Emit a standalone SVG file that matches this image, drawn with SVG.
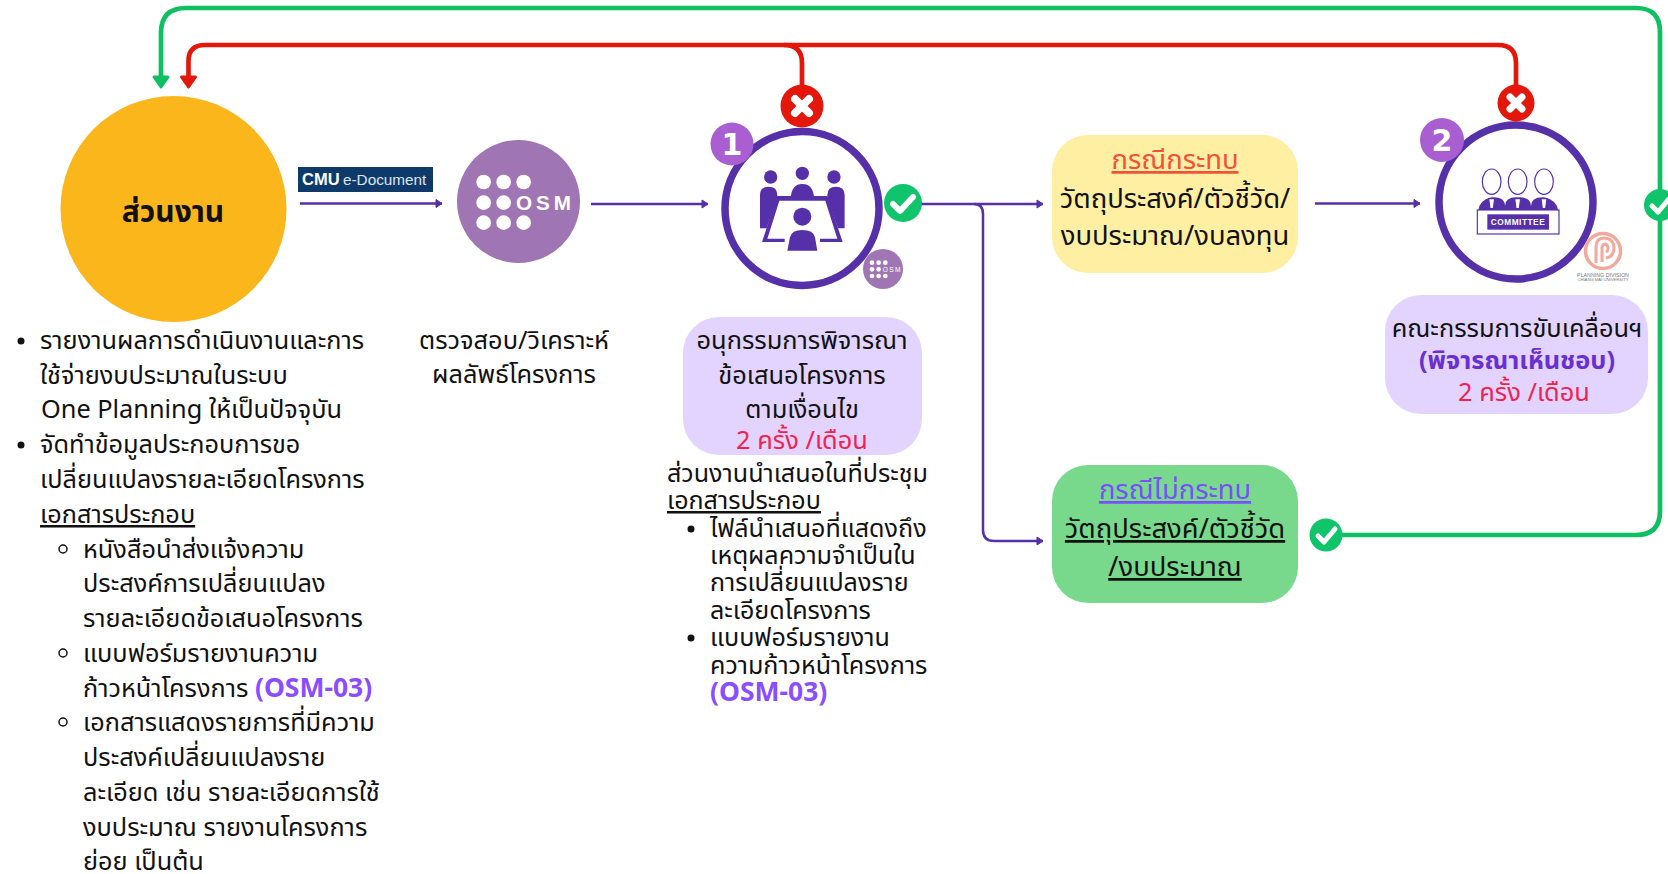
<svg xmlns="http://www.w3.org/2000/svg" width="1668" height="874" viewBox="0 0 1668 874">
<style>
text{font-family:"Noto Sans","Noto Sans Thai","Noto Sans Thai UI","DejaVu Sans",sans-serif;fill:#111}
.l{font-size:25.300px}
.m{font-size:25.400px;text-anchor:middle}
.s{font-size:25.100px}
.b{font-size:27.400px;text-anchor:middle}
.u{text-decoration:underline}
.osm{font-family:"Liberation Sans",sans-serif;font-weight:700;fill:#fff}
.pu{fill:#5530a8}
.dot{fill:#fff}
.flow{fill:none;stroke:#5530a8;stroke-width:2.500}
.red{fill:none;stroke:#e3170a;stroke-width:4.700}
.grn{fill:none;stroke:#0fbf62;stroke-width:4.700}
.x{stroke:#fff;stroke-width:8;stroke-linecap:round;fill:none}
.ck{stroke:#fff;stroke-width:6;stroke-linecap:round;stroke-linejoin:round;fill:none}
.ring{fill:#fff;stroke:#5530a8;stroke-width:7.500}
.badge{fill:#a95fd2}
.badget{font-family:"DejaVu Sans",sans-serif;font-weight:700;font-size:30px;fill:#fff;text-anchor:middle}
.purplebold{font-weight:700;fill:#8a4dff;font-size:26.500px}
</style>
<defs>
<marker id="ap" markerWidth="8" markerHeight="10" refX="7" refY="5" orient="auto" markerUnits="userSpaceOnUse" viewBox="0 0 8 10"><path d="M1 1L7 5L1 9Z" fill="#5530a8" stroke="#5530a8" stroke-linejoin="round"/></marker>
</defs>
<g id="connectors">
<path class="grn" d="M1325 535H1636Q1660 535 1660 511V32Q1660 8 1636 8H186Q161 8 161 33V76"/>
<path d="M154 77H168L161 87Z" fill="#0fbf62" stroke="#0fbf62" stroke-width="3" stroke-linejoin="round"/>
<path class="red" d="M802 86V63Q802 45 784 45H205Q188.500 45 188.500 61V76"/>
<path class="red" d="M1516 86V63Q1516 45 1498 45H784"/>
<path d="M181.500 77H195.500L188.500 87Z" fill="#e3170a" stroke="#e3170a" stroke-width="3" stroke-linejoin="round"/>
<path class="flow" marker-end="url(#ap)" d="M300 203.500H442"/>
<path class="flow" marker-end="url(#ap)" d="M591 204H708"/>
<path class="flow" marker-end="url(#ap)" d="M921 204H1043"/>
<path class="flow" marker-end="url(#ap)" d="M974 204Q983 204 983 214V530Q983 541 994 541H1043"/>
<path class="flow" marker-end="url(#ap)" d="M1315 203.500H1420"/>
</g>
<g id="unit">
<circle cx="173.500" cy="209" r="113" fill="#fbb61b"/>
<text x="173" y="222" font-size="30" font-weight="700" text-anchor="middle">ส่วนงาน</text>
<circle cx="21" cy="341" r="3.500" fill="#111"/>
<circle cx="21" cy="445" r="3.500" fill="#111"/>
<circle cx="63" cy="549" r="4" fill="none" stroke="#111" stroke-width="1.500"/>
<circle cx="63" cy="653" r="4" fill="none" stroke="#111" stroke-width="1.500"/>
<circle cx="63" cy="722" r="4" fill="none" stroke="#111" stroke-width="1.500"/>
<text class="l" x="40" y="349">รายงานผลการดำเนินงานและการ</text>
<text class="l" x="40" y="384">ใช้จ่ายงบประมาณในระบบ</text>
<text class="l" x="41" y="418">One Planning ให้เป็นปัจจุบัน</text>
<text class="l" x="40" y="453">จัดทำข้อมูลประกอบการขอ</text>
<text class="l" x="40" y="488">เปลี่ยนแปลงรายละเอียดโครงการ</text>
<text class="l u" x="40" y="523">เอกสารประกอบ</text>
<text class="l" x="83" y="558">หนังสือนำส่งแจ้งความ</text>
<text class="l" x="83" y="592">ประสงค์การเปลี่ยนแปลง</text>
<text class="l" x="83" y="627">รายละเอียดข้อเสนอโครงการ</text>
<text class="l" x="83" y="662">แบบฟอร์มรายงานความ</text>
<text class="l" x="83" y="697">ก้าวหน้าโครงการ <tspan class="purplebold">(OSM-03)</tspan></text>
<text class="l" x="83" y="731">เอกสารแสดงรายการที่มีความ</text>
<text class="l" x="83" y="766">ประสงค์เปลี่ยนแปลงราย</text>
<text class="l" x="83" y="801">ละเอียด เช่น รายละเอียดการใช้</text>
<text class="l" x="83" y="836">งบประมาณ รายงานโครงการ</text>
<text class="l" x="83" y="870">ย่อย เป็นต้น</text>
</g>
<g id="edoc">
<rect x="298" y="167" width="135" height="25" fill="#0e3a6b"/>
<text x="302" y="185" font-weight="700" font-size="16.500" style="fill:#fff;font-family:'Liberation Sans'">CMU</text>
<text x="343" y="185" style="fill:#dfe6ee;font-family:'Liberation Sans'" font-size="15.300">e-Document</text>
</g>
<g id="osm">
<circle cx="518.500" cy="201.500" r="61.500" fill="#9f76b3"/>
<g transform="translate(280 120) scale(.3333)">
<circle class="dot" cx="611" cy="186" r="22"/><circle class="dot" cx="671" cy="186" r="22"/><circle class="dot" cx="731" cy="186" r="22"/>
<circle class="dot" cx="611" cy="248" r="22"/><circle class="dot" cx="671" cy="248" r="22"/>
<circle class="dot" cx="611" cy="308" r="22"/><circle class="dot" cx="671" cy="308" r="22"/><circle class="dot" cx="731" cy="308" r="22"/>
<text class="osm" x="708" y="270" font-size="62" letter-spacing="12">OSM</text>
</g>
<text class="m" x="514" y="349">ตรวจสอบ/วิเคราะห์</text>
<text class="m" x="514" y="383">ผลลัพธ์โครงการ</text>
</g>
<g id="meeting">
<circle class="ring" cx="802" cy="208.500" r="77"/>
<g transform="translate(700 70) scale(.3333)" class="pu">
<circle cx="212" cy="321" r="20"/><circle cx="307" cy="310" r="20"/><circle cx="402" cy="321" r="20"/>
<path d="M272 384Q275 342 307 342Q340 342 342 384Z"/>
<path d="M232 378H382L428 516H360V506H412L376 392H238L202 506H254V516H186Z"/>
<path d="M180 475V375Q180 350 206 350Q232 350 232 375V385L200 475Z"/>
<path d="M434 475V375Q434 350 408 350Q382 350 382 375V385L414 475Z"/>
<circle cx="307" cy="440" r="27"/>
<path d="M262 542L270 502Q275 480 307 480Q340 480 345 502L352 542Z"/>
</g>
</g>
<g id="badge1"><circle class="badge" cx="732" cy="144" r="21.500"/><text class="badget" x="732" y="155">1</text></g>
<g id="reject1"><circle cx="802" cy="106" r="21.500" fill="#e3170a"/><path class="x" d="M795 99L809 113M809 99L795 113"/></g>
<g id="approve1"><circle cx="903" cy="203" r="19" fill="#0fc46a"/><path class="ck" d="M893 204L900 211L913 197"/></g>
<g id="osmmini">
<circle cx="883" cy="269" r="20" fill="#9f76b3"/>
<g transform="translate(700 70) scale(.3333)">
<circle class="dot" cx="516" cy="578" r="7"/><circle class="dot" cx="536" cy="578" r="7"/><circle class="dot" cx="556" cy="578" r="7"/>
<circle class="dot" cx="516" cy="598" r="7"/><circle class="dot" cx="536" cy="598" r="7"/>
<circle class="dot" cx="516" cy="618" r="7"/><circle class="dot" cx="536" cy="618" r="7"/><circle class="dot" cx="556" cy="618" r="7"/>
<text x="548" y="605" font-size="20" letter-spacing="4" style="fill:#fff;font-family:'Liberation Sans'">OSM</text>
</g>
</g>
<g id="sub">
<rect x="683" y="317" width="239" height="138" rx="36" fill="#e2d4ff"/>
<text class="m" x="802" y="349">อนุกรรมการพิจารณา</text>
<text class="m" x="802" y="384">ข้อเสนอโครงการ</text>
<text class="m" x="802" y="418">ตามเงื่อนไข</text>
<text class="m" x="802" y="449" style="fill:#f0234f">2 ครั้ง /เดือน</text>
<text class="s" x="667" y="482">ส่วนงานนำเสนอในที่ประชุม</text>
<text class="s u" x="667" y="509">เอกสารประกอบ</text>
<circle cx="691" cy="529" r="3.500" fill="#111"/>
<circle cx="691" cy="638" r="3.500" fill="#111"/>
<text class="s" x="710" y="537">ไฟล์นำเสนอที่แสดงถึง</text>
<text class="s" x="710" y="564">เหตุผลความจำเป็นใน</text>
<text class="s" x="710" y="591">การเปลี่ยนแปลงราย</text>
<text class="s" x="710" y="619">ละเอียดโครงการ</text>
<text class="s" x="710" y="646">แบบฟอร์มรายงาน</text>
<text class="s" x="710" y="674">ความก้าวหน้าโครงการ</text>
<text class="purplebold" x="710" y="701">(OSM-03)</text>
</g>
<g id="affect">
<rect x="1052" y="135" width="246" height="138" rx="36" fill="#ffefa3"/>
<text class="b u" x="1175" y="169" style="fill:#f25138">กรณีกระทบ</text>
<text class="b" x="1175" y="208">วัตถุประสงค์/ตัวชี้วัด/</text>
<text class="b" x="1175" y="245">งบประมาณ/งบลงทุน</text>
</g>
<g id="noaffect">
<rect x="1052" y="465" width="246" height="138" rx="36" fill="#78d98c"/>
<text class="b u" x="1175" y="499" style="fill:#7a4dff">กรณีไม่กระทบ</text>
<text class="b u" x="1175" y="538">วัตถุประสงค์/ตัวชี้วัด</text>
<text class="b u" x="1175" y="576">/งบประมาณ</text>
</g>
<g id="approve3"><circle cx="1326" cy="535" r="16.500" fill="#0fc46a"/><path class="ck" d="M1318 536L1324 542L1335 529" style="stroke-width:5"/></g>
<g id="committee">
<circle class="ring" cx="1516" cy="202" r="77"/>
<g transform="translate(1400 80) scale(.3333)">
<path class="pu" d="M235 392Q238 360 275 352Q315 350 315 378Q316 350 353 352Q392 350 393 378Q394 350 432 352Q470 360 475 392Z"/>
<g fill="#fff" stroke="#5530a8" stroke-width="3.500">
<ellipse cx="275" cy="305" rx="28" ry="38"/><ellipse cx="353" cy="305" rx="28" ry="38"/><ellipse cx="432" cy="305" rx="28" ry="38"/>
<path d="M266 356H284L280 386H270Z"/><path d="M344 356H362L358 386H348Z"/><path d="M423 356H441L437 386H427Z"/>
<rect x="232" y="390" width="245" height="72"/>
</g>
<rect class="pu" x="262" y="403" width="185" height="46"/>
<text x="354" y="435" font-size="25" font-weight="700" letter-spacing="1.500" text-anchor="middle" style="fill:#fff;font-family:'Liberation Sans'">COMMITTEE</text>
</g>
</g>
<g id="badge2"><circle class="badge" cx="1442" cy="140" r="22"/><text class="badget" x="1442" y="151">2</text></g>
<g id="reject2"><circle cx="1516" cy="103" r="18.500" fill="#e3170a"/><path class="x" d="M1510 97L1522 109M1522 97L1510 109" style="stroke-width:7"/></g>
<g id="approve2"><circle cx="1660" cy="205" r="16" fill="#0fc46a"/><path class="ck" d="M1652 206L1658 212L1668 200" style="stroke-width:5"/></g>
<g id="planning">
<circle cx="1603" cy="251" r="17.500" fill="#fff" stroke="#f3a89c" stroke-width="3.500"/>
<path d="M1596 263V247Q1596 238 1604 238Q1613 238 1614 247Q1614 257 1606 258M1602 262V247Q1603 244 1605 244Q1608 245 1608 248Q1608 251 1606 252" fill="none" stroke="#f3a89c" stroke-width="3"/>
<text x="1603" y="276.500" font-size="5.300" text-anchor="middle" style="fill:#777;font-family:'Liberation Sans'">PLANNING DIVISION</text>
<text x="1603" y="281" font-size="4.200" text-anchor="middle" style="fill:#777;font-family:'Liberation Sans'">CHIANG MAI UNIVERSITY</text>
</g>
<g id="board">
<rect x="1385" y="295" width="263" height="119" rx="36" fill="#e2d4ff"/>
<text class="m" x="1517" y="337">คณะกรรมการขับเคลื่อนฯ</text>
<text class="m" x="1517" y="369" font-weight="700" style="fill:#6a2fd0">(พิจารณาเห็นชอบ)</text>
<text class="m" x="1524" y="401" style="fill:#f0234f">2 ครั้ง /เดือน</text>
</g>
</svg>
